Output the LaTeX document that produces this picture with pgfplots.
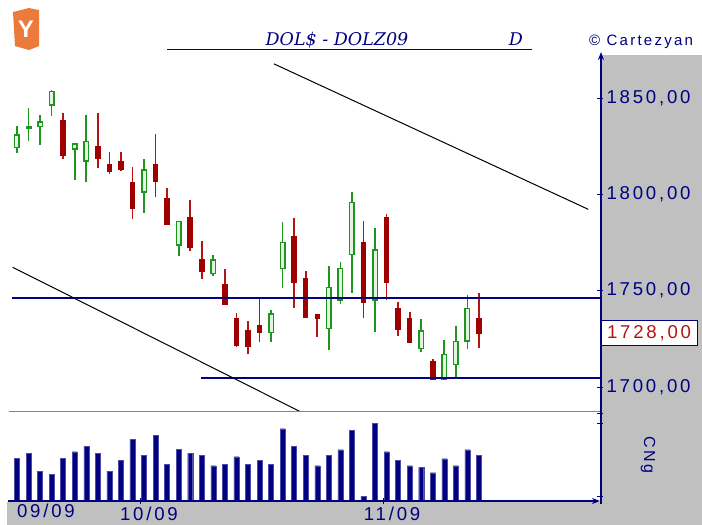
\documentclass[border=0pt]{standalone}
\usepackage{pgfplots}
\pgfplotsset{compat=1.18}
\usepackage{pgfplotstable}
\usepackage{fontspec}
\setmainfont{Liberation Sans}
\newfontfamily\lblfont[LetterSpace=15]{Liberation Sans}
\newfontfamily\ttlfont{DejaVu Serif}
\usetikzlibrary{arrows.meta}
\definecolor{navy}{HTML}{000080}
\definecolor{cred}{HTML}{A00000}
\definecolor{wred}{HTML}{B41414}
\definecolor{cgreen}{HTML}{1E961E}
\definecolor{gfill}{HTML}{E4F2E4}
\definecolor{panel}{HTML}{C0C0C0}
\definecolor{logo}{HTML}{EB7A3C}

% daily candles: index, open, high, low, close
\pgfplotstableread{
i  o      h      l      c
0  1824.2 1835.6 1821.3 1830.8
1  1834.4 1845.0 1827.7 1834.9
2  1835.3 1841.2 1825.6 1837.4
3  1846.4 1854.2 1840.8 1853.3
5  1823.4 1826.0 1807.4 1826.0
6  1817.4 1841.2 1806.2 1827.3
11 1801.3 1818.2 1790.1 1812.6
14 1773.7 1785.8 1768.1 1785.8
17 1759.0 1768.5 1757.7 1765.9
22 1728.3 1739.9 1723.5 1737.8
23 1761.4 1785.8 1751.2 1774.9
27 1730.4 1762.8 1719.2 1751.7
28 1745.1 1765.0 1743.0 1761.6
29 1768.8 1801.0 1748.6 1795.8
31 1745.1 1782.3 1728.3 1771.1
35 1720.0 1735.3 1718.3 1729.0
37 1704.1 1724.4 1704.0 1716.9
38 1711.7 1731.8 1704.0 1723.5
39 1723.8 1747.7 1719.7 1740.8
}\greens

\pgfplotstableread{
i  o      h      l      c
4  1838.4 1842.1 1818.3 1820.4
7  1824.7 1842.1 1813.8 1818.7
8  1815.6 1821.8 1810.4 1812.1
9  1816.9 1821.8 1812.1 1813.1
10 1806.1 1814.3 1787.2 1792.9
12 1815.2 1831.2 1798.8 1806.5
13 1797.9 1803.4 1784.0 1784.6
15 1787.9 1797.0 1770.6 1772.3
16 1765.9 1775.8 1756.0 1759.8
18 1752.9 1761.2 1742.4 1742.9
19 1735.6 1738.2 1720.9 1721.4
20 1729.5 1734.4 1717.1 1720.9
21 1731.6 1746.0 1723.5 1728.1
24 1778.3 1787.5 1740.8 1754.1
25 1756.4 1760.2 1735.9 1736.1
26 1737.8 1737.8 1725.8 1735.6
30 1775.1 1786.1 1735.6 1743.9
32 1787.9 1789.6 1745.1 1754.1
33 1740.8 1743.9 1726.6 1730.1
34 1735.3 1739.0 1723.2 1723.2
36 1713.1 1714.5 1704.0 1704.0
40 1735.6 1748.6 1720.0 1728.0
}\reds

\pgfplotstableread{
i  v
0  42.7
1  47.7
2  30.0
3  26.7
4  42.7
5  49.3
6  55.0
7  47.7
8  30.0
9  40.7
10 61.7
11 46.0
12 65.7
13 37.0
14 51.7
15 47.7
16 46.0
17 35.3
18 37.0
19 44.3
20 37.0
21 40.7
22 37.0
23 72.3
24 54.7
25 46.0
26 35.3
27 46.0
28 51.3
29 70.7
30 5.0
31 77.7
32 49.3
33 40.7
34 35.3
35 33.7
36 28.3
37 42.3
38 35.3
39 51.3
40 46.0
}\vols

\pgfplotsset{
  candle/.style={only marks, mark=text, text mark={}, forget plot,
    error bars/.cd, y dir=both, y explicit, error mark=none,
    error bar style={#1}},
}

\begin{document}
\begin{tikzpicture}[x=1pt,y=1pt]
\fill[white] (0,0) rectangle (702,-525);
\useasboundingbox (0,0) rectangle (702,-525);
\fill[panel] (600,-55) rectangle (702,-525);
\fill[panel] (7,-502) rectangle (702,-525);

% logo
\fill[logo] (13,-12) -- (29,-8) -- (39,-10) -- (39,-46) -- (29,-50) -- (15,-46) -- cycle;
\node[white, font=\bfseries\fontsize{24}{24}\selectfont] at (26,-29) {Y};

% title
\node[navy, font=\ttlfont\itshape\fontsize{17.5}{19}\selectfont, anchor=base] at (337,-45) {DOL\$ - DOLZ09};
\node[navy, font=\ttlfont\itshape\fontsize{17.5}{19}\selectfont, anchor=base] at (516,-45) {D};
\draw[navy, line width=1pt] (167,-49.5) -- (532,-49.5);
\node[navy, font=\lblfont\fontsize{15}{17}\selectfont, anchor=base west, inner sep=0pt] at (589,-45) {© Cartezyan};

\begin{axis}[
  at={(9pt,-411pt)}, anchor=south west,
  scale only axis, width=591pt, height=356pt,
  xmin=-0.69, xmax=50.48, ymin=1687.5, ymax=1872.3,
  axis x line=none, axis y line*=right,
  y axis line style={draw=none},
  ytick={1700,1750,1800,1850},
  tick align=center, major tick length=6pt,
  ytick style={navy, line width=0.8pt},
  /pgf/number format/assume math mode=true,
  yticklabel style={font=\lblfont\fontsize{18.6}{20}\selectfont, text=navy,
    /pgf/number format/fixed, /pgf/number format/fixed zerofill,
    /pgf/number format/precision=2, /pgf/number format/use comma,
    /pgf/number format/1000 sep={}},
]
% wicks
\addplot[candle={line width=1.7pt, color=cgreen}]
  table[x=i, y expr={(\thisrow{h}+\thisrow{l})/2}, y error expr={(\thisrow{h}-\thisrow{l})/2}] {\greens};
\addplot[candle={line width=1.7pt, color=wred}]
  table[x=i, y expr={(\thisrow{h}+\thisrow{l})/2}, y error expr={(\thisrow{h}-\thisrow{l})/2}] {\reds};
% bodies
\addplot[candle={line width=5.5pt, color=cred}]
  table[x=i, y expr={(\thisrow{o}+\thisrow{c})/2}, y error expr={abs(\thisrow{o}-\thisrow{c})/2+0.3}] {\reds};
\addplot[candle={line width=6pt, color=cgreen}]
  table[x=i, y expr={(\thisrow{o}+\thisrow{c})/2}, y error expr={abs(\thisrow{o}-\thisrow{c})/2+0.4}] {\greens};
\addplot[candle={line width=3pt, color=gfill}]
  table[x=i, y expr={(\thisrow{o}+\thisrow{c})/2}, y error expr={max(abs(\thisrow{o}-\thisrow{c})/2-0.4,0)}] {\greens};
% support / resistance and trend lines
\addplot[navy, line width=1.3pt] coordinates {(-0.43,1746.2) (50.48,1746.2)};
\addplot[navy, line width=1.3pt] coordinates {(15.93,1704.6) (50.48,1704.6)};
\addplot[black, line width=1pt] coordinates {(22.25,1867.7) (49.46,1792.2)};
\addplot[black, line width=1pt] coordinates {(-0.37,1762.1) (24.65,1686.8)};
\coordinate (last) at (axis cs:50.48,1728);
\end{axis}

\draw[panel!70!black, line width=1.5pt] (9,-411.5) -- (600,-411.5);

\begin{axis}[
  at={(9pt,-501pt)}, anchor=south west,
  scale only axis, width=591pt, height=89pt,
  xmin=-0.69, xmax=50.48, ymin=0, ymax=89,
  axis x line*=bottom, axis y line*=right,
  axis line style={draw=none},
  ytick={5,78,88}, yticklabels={,,},
  xtick={10.65,31.7}, xticklabels={10/09,11/09},
  extra x ticks={1.73}, extra x tick labels={09/09},
  extra x tick style={major tick length=0pt},
  tick align=center, major tick length=6pt,
  tick style={navy, line width=0.8pt},
  xticklabel style={font=\lblfont\fontsize{18.6}{20}\selectfont, text=navy, xshift=9pt, yshift=1pt},
]
\addplot[ybar, bar width=5pt, fill=navy, draw=navy!70] table[x=i, y=v] {\vols};
\end{axis}

% axis frame
\draw[navy, line width=1.3pt, -{Stealth[length=8pt,width=6pt]}] (601,-504) -- (601,-52);
\draw[navy, line width=1.3pt, -{Stealth[length=8pt,width=6pt]}] (8,-501) -- (600,-501);

\node[draw=navy, line width=1pt, fill=white, text=wred, anchor=west, minimum width=96pt,
  minimum height=25pt, inner sep=1pt, font=\lblfont\fontsize{18.6}{20}\selectfont] at ([xshift=0.5pt]last) {1728,00};
\node[navy, rotate=-90, font=\lblfont\fontsize{16}{18}\selectfont] at (648,-455) {CNg};
\end{tikzpicture}
\end{document}
